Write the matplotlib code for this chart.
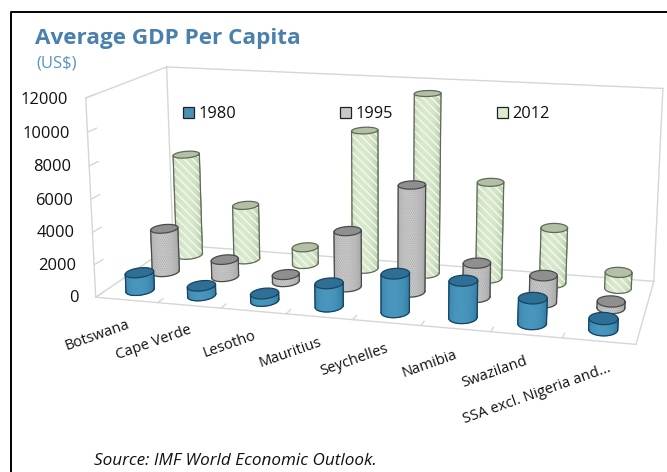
import numpy as np
import matplotlib
matplotlib.use("Agg")
import matplotlib.pyplot as plt
from matplotlib.colors import to_rgb
from matplotlib.lines import Line2D
from matplotlib.patches import Patch
from mpl_toolkits.mplot3d.art3d import Poly3DCollection

categories = ["Botswana", "Cape Verde", "Lesotho", "Mauritius", "Seychelles", "Namibia", "Swaziland", "SSA excl. Nigeria and..."]
series_names = ["1980", "1995", "2012"]
values_1980 = [1100, 600, 450, 1400, 2300, 2200, 1500, 650]
values_1995 = [2800, 1100, 450, 3500, 6600, 2100, 1650, 400]
values_2012 = [6700, 3600, 1100, 8900, 11400, 6100, 3500, 1000]
z_ticks = [0, 2000, 4000, 6000, 8000, 10000, 12000]

plt.rcParams['font.family'] = ['Open Sans', 'DejaVu Sans']
plt.rcParams['hatch.linewidth'] = 1.1

fig = plt.figure(figsize=(6.67, 4.72), dpi=100)
# axes box and view lined up against the reference corners
ax = fig.add_axes([25.0 / 667, -75.23 / 472, 690.27 / 667, 690.27 / 472], projection='3d', computed_zorder=False)
ax.set_xlim(0, 8, view_margin=0)
ax.set_ylim(0, 3, view_margin=0)
ax.set_zlim(0, 12000, view_margin=0)
ax.set_axis_off()
ax.view_init(elev=13.957, azim=-74.977, roll=0.035)
ax.set_proj_type('persp', focal_length=0.3895)
ax.set_box_aspect((1, 0.3687, 0.3778), zoom=0.85)


def project(pts):
    M = ax.get_proj()
    pts = np.asarray(pts, float)
    t = M @ np.c_[pts, np.ones(len(pts))].T
    return t[0] / t[3], t[1] / t[3]


def label(x, y, z, s, **kw):
    px, py = project([(x, y, z)])
    ax.text2D(px[0], py[0], s, transform=ax.transData, color='#111111', **kw)


def bar(xc, yc, h, cols, top, rim, hatch, hatch_c, zo):
    rx, ry = .2, .27
    t = np.linspace(0, 2 * np.pi, 72, endpoint=False)
    xs = xc + rx * np.cos(t)
    ys = yc + ry * np.sin(t)
    px, py = project(np.c_[xs, ys, np.zeros(72)])
    a, b = int(np.argmin(px)), int(np.argmax(px))
    arc1 = [(a + i) % 72 for i in range((b - a) % 72 + 1)]
    arc2 = [(a - i) % 72 for i in range((a - b) % 72 + 1)]
    arc = arc1 if py[arc1].mean() < py[arc2].mean() else arc2
    faces = []
    colors = []
    for j in range(len(arc) - 1):
        i0, i1 = arc[j], arc[j + 1]
        faces.append([(xs[i0], ys[i0], 0), (xs[i1], ys[i1], 0), (xs[i1], ys[i1], h), (xs[i0], ys[i0], h)])
        f = (j + .5) / (len(arc) - 1)
        w = 1 - abs(2 * f - .9) ** 2
        colors.append(cols[0] * (1 - w) + cols[1] * w)
    ax.add_collection3d(Poly3DCollection(faces, facecolors=colors, edgecolors=colors, linewidths=.6, zorder=zo), autolim=False)
    if hatch:
        outline = [(xs[i], ys[i], 0) for i in arc] + [(xs[i], ys[i], h) for i in arc[::-1]]
        ax.add_collection3d(Poly3DCollection([outline], facecolors=[(1, 1, 1, 0)], edgecolors=hatch_c, linewidths=0,
                                             hatch=hatch, zorder=zo + .05), autolim=False)
    cap = Poly3DCollection([list(zip(xs, ys, np.full(72, h)))], facecolors=top, edgecolors='none', zorder=zo + .1)
    ax.add_collection3d(cap, autolim=False)
    ax.plot(np.r_[xs, xs[0]], np.r_[ys, ys[0]], h, color=rim, lw=.9, zorder=zo + .2)
    ax.plot(xs[arc], ys[arc], 0, color=rim, lw=.9, zorder=zo + .2)
    for i in (a, b):
        ax.plot([xs[i], xs[i]], [ys[i], ys[i]], [0, h], color=rim, lw=.9, zorder=zo + .2)


box_c = '#d6d6d6'
for a, b in [((0, 0, 0), (8, 0, 0)), ((8, 0, 0), (8, 3, 0)), ((8, 3, 0), (0, 3, 0)), ((0, 3, 0), (0, 0, 0)),
             ((0, 0, 0), (0, 0, 12000)), ((0, 3, 0), (0, 3, 12000)), ((8, 3, 0), (8, 3, 12000)),
             ((0, 0, 12000), (0, 3, 12000)), ((0, 3, 12000), (8, 3, 12000))]:
    ax.plot(*zip(a, b), color=box_c, lw=1, zorder=0)
for z in z_ticks:
    ax.plot([0, 0], [0, .3], [z, z], color=box_c, lw=1, zorder=0)
    label(-.29, 0, z - 150, str(z), ha='right', va='center', fontsize=11.9)
for i in range(1, 8):
    ax.plot([i, i], [0, .2], [0, 0], color=box_c, lw=1, zorder=0)

colors_1980 = (np.array(to_rgb('#2c7299')), np.array(to_rgb('#4795bd')))
colors_1995 = (np.array(to_rgb('#9a9a9a')), np.array(to_rgb('#e2e2e2')))
colors_2012 = (np.array(to_rgb('#aec2a0')), np.array(to_rgb('#d8e8cd')))
for i in range(8):
    bar(i + .5, 2.5, values_2012[i], colors_2012, '#b4c0a6', '#5f6b59', '\\\\\\\\', '#f0f8ea', 1)
    bar(i + .5, 1.5, values_1995[i], colors_1995, '#8f8f8f', '#4a4a4a', '........', '#a0a0a0', 2)
    bar(i + .5, .5, values_1980[i], colors_1980, '#2f6f96', '#174560', None, None, 3)
for i, name in enumerate(categories):
    # the long last label sits further right in the reference
    shift = .15 if i == len(categories) - 1 else 0
    label(i + .52 + shift, 0, -1500, name, rotation=19.5, rotation_mode='anchor', ha='right', va='center', fontsize=10.6)

ax.set_xlim(0, 8, view_margin=0)
ax.set_ylim(0, 3, view_margin=0)
ax.set_zlim(0, 12000, view_margin=0)

fig.text(35 / 667, 1 - 44 / 472, "Average GDP Per Capita", fontsize=16.2, fontweight='bold', color='#4a80ad')
fig.text(36 / 667, 1 - 67 / 472, "(US$)", fontsize=12, color='#5a94c0')
fig.text(94 / 667, 1 - 465 / 472, "Source: IMF World Economic Outlook.", fontsize=12.3, style='italic', color='#111111')
fig.add_artist(Line2D([10.5 / 667, 10.5 / 667, 1], [0, 1 - 12 / 472, 1 - 12 / 472], color='black', lw=1.4))

handles = [Patch(facecolor=c, edgecolor='#222222', lw=.9) for c in ('#4a8fb5', '#c9c9c9', '#dcebd2')]
fig.legend(handles, series_names, loc='center left', bbox_to_anchor=(183 / 667, 1 - 114 / 472), ncol=3, frameon=False,
           fontsize=11.8, borderpad=0, borderaxespad=0, handlelength=.68, handleheight=.68, handletextpad=.25, columnspacing=6.35, labelcolor='#111111')

fig.savefig("out.png", dpi=100)
